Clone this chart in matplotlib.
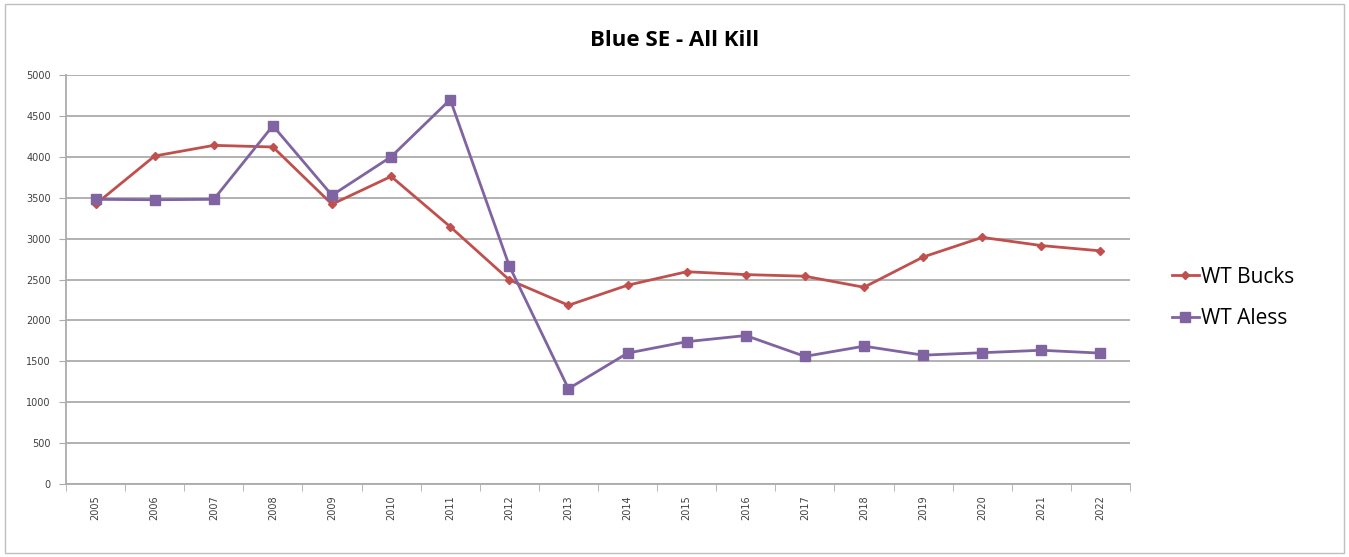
import numpy as np
import matplotlib.pyplot as plt
from matplotlib.patches import Rectangle
from matplotlib.lines import Line2D

years = [str(y) for y in range(2005, 2023)]
wt_bucks = [3420, 4010, 4140, 4120, 3420, 3760, 3145, 2495, 2185, 2430,
            2595, 2560, 2540, 2405, 2775, 3015, 2915, 2850]
wt_aless = [3480, 3475, 3480, 4380, 3530, 4000, 4700, 2665, 1165, 1600,
            1740, 1815, 1560, 1685, 1575, 1605, 1635, 1600]

red = '#C0504D'
purple = '#8064A2'
grid_col = '#ABABAB'

fig = plt.figure(figsize=(13.49, 5.57), dpi=100)
fig.patch.set_facecolor('white')
# chart border
fig.add_artist(Rectangle((0.004, 0.008), 0.992, 0.984, transform=fig.transFigure,
                         fill=False, edgecolor='#BFBFBF', linewidth=1))

ax = fig.add_axes([66 / 1349, 1 - 484 / 557, (1130 - 66) / 1349, (484 - 75) / 557])
x = np.arange(len(years))

ax.plot(x, wt_bucks, color=red, linewidth=2, marker='D', markersize=4,
        label='WT Bucks', zorder=3)
ax.plot(x, wt_aless, color=purple, linewidth=2, marker='s', markersize=7,
        label='WT Aless', zorder=3)

ax.set_xlim(-0.5, len(years) - 0.5)
ax.set_ylim(0, 5000)
ax.set_yticks(np.arange(0, 5001, 500))
ax.yaxis.grid(True, color=grid_col, linewidth=1.3)
ax.set_axisbelow(True)

ax.set_xticks(x)
ax.set_xticklabels(years, rotation=90, fontsize=7, color='#404040')
ax.set_xticks(np.arange(-0.5, len(years), 1), minor=True)
ax.tick_params(axis='x', which='major', length=0, pad=8)
ax.tick_params(axis='x', which='minor', length=5, color=grid_col, direction='out')
ax.tick_params(axis='y', length=5, color=grid_col, labelsize=7, labelcolor='#404040', pad=6)

for side in ['top', 'right']:
    ax.spines[side].set_visible(False)
for side in ['left', 'bottom']:
    ax.spines[side].set_color(grid_col)
    ax.spines[side].set_linewidth(1.3)

fig.text(0.5, 1 - 40 / 557, 'Blue SE - All Kill', ha='center', va='center',
         fontsize=16, fontweight='bold', family='Open Sans')

handles = [Line2D([], [], color=red, linewidth=2, marker='D', markersize=4),
           Line2D([], [], color=purple, linewidth=2, marker='s', markersize=7)]
fig.legend(handles, ['WT Bucks', 'WT Aless'], loc='center left',
           bbox_to_anchor=(1153 / 1349, 1 - 298 / 557), frameon=False,
           prop={'family': 'Open Sans', 'size': 15}, handlelength=1.3,
           handletextpad=0.1, labelspacing=1.0)

fig.savefig('out.png', dpi=100, facecolor='white')
